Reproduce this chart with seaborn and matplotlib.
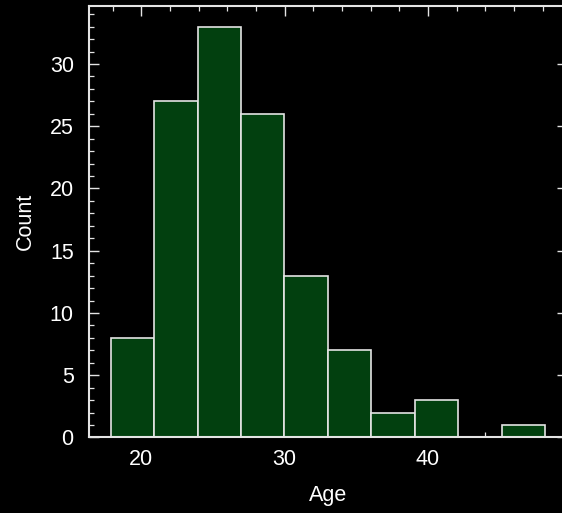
import numpy as np
import pandas as pd
import matplotlib
matplotlib.use("Agg")
import matplotlib.pyplot as plt
from matplotlib.ticker import MultipleLocator
import seaborn as sns

# ---- data ----
bin_edges = [17.86, 20.89, 23.92, 26.95, 29.98, 33.01, 36.04, 39.07, 42.1, 45.13, 48.16]
bin_counts = [8, 27, 33, 26, 13, 7, 2, 3, 0, 1]
bin_centers = [(a + b) / 2 for a, b in zip(bin_edges[:-1], bin_edges[1:])]
df = pd.DataFrame({"Age": bin_centers, "n": bin_counts})

sns.set_style("dark")
plt.rcParams["font.family"] = ["Liberation Sans", "DejaVu Sans"]

fig = plt.figure(figsize=(5.62, 5.13), dpi=100, facecolor="black")
# right spine sits just past the right edge of the figure, as in the reference
ax = fig.add_axes([0.1584, 0.1472, 0.850, 0.841])
ax.set_facecolor("black")

sns.histplot(data=df, x="Age", weights="n", bins=bin_edges, ax=ax,
             color="#02400f", alpha=1, edgecolor="#e4e4e4", linewidth=1.2)

ax.set_xlabel("Age", color="white", fontsize=15.5, labelpad=11)
ax.set_ylabel("Count", color="white", fontsize=15.5, labelpad=10)
ax.xaxis.set_major_locator(MultipleLocator(10))
ax.xaxis.set_minor_locator(MultipleLocator(2))
ax.yaxis.set_major_locator(MultipleLocator(5))
ax.yaxis.set_minor_locator(MultipleLocator(1))
ax.tick_params(which="both", direction="in", top=True, right=True,
               bottom=True, left=True, colors="#e4e4e4", labelcolor="white",
               labelsize=15.5)
ax.tick_params(which="major", length=7, width=1.0)
ax.tick_params(which="minor", length=3.6, width=0.9)
ax.tick_params(axis="x", which="major", pad=8)
ax.tick_params(axis="y", which="major", pad=11)
for s in ax.spines.values():
    s.set_visible(True)
    s.set_color("#e4e4e4")
    s.set_linewidth(1.5)
ax.grid(False)

fig.savefig("out.png", dpi=100, facecolor="black")
